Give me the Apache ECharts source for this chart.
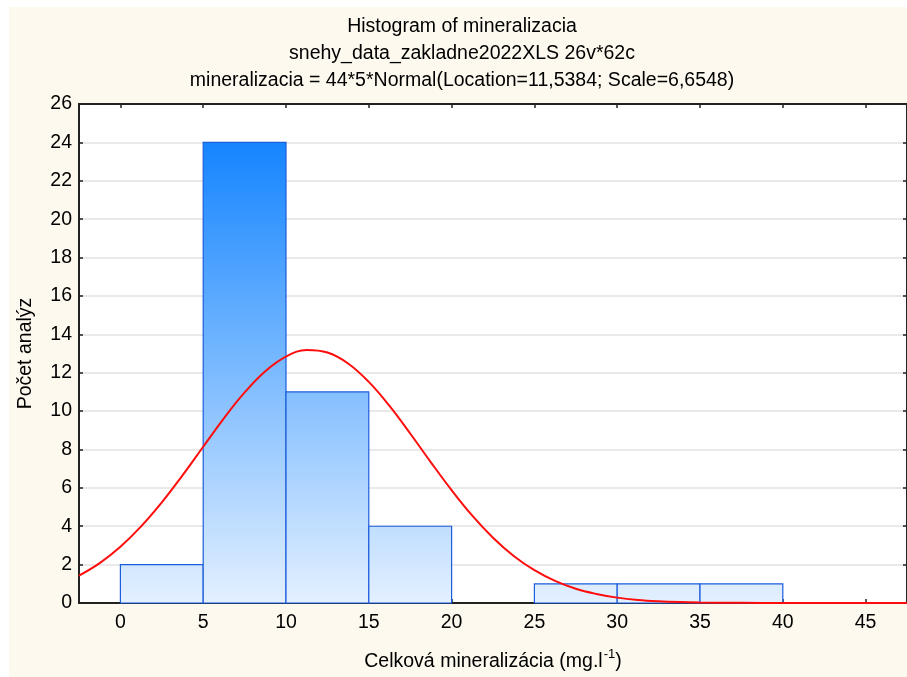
<!DOCTYPE html>
<html>
<head>
<meta charset="utf-8">
<script src="https://cdn.jsdelivr.net/npm/echarts@6/dist/echarts.min.js"></script>
<style>
  html, body { margin: 0; padding: 0; background: #ffffff; }
  #chart { width: 907px; height: 677px; }
</style>
</head>
<body>
<div id="chart"></div>
<script>
// Histogram bins (mg.l-1) and counts
const binStart = [0, 5, 10, 15, 20, 25, 30, 35];
const binEnd   = [5, 10, 15, 20, 25, 30, 35, 40];
const counts   = [2, 24, 11, 4, 0, 1, 1, 1];

// Fitted normal curve, sampled points (x, expected count per bin)
const curveX = [-2.5, -1.25, 0, 1.25, 2.5, 3.75, 5, 6.25, 7.5, 8.75, 10, 11.25, 12.5, 13.75,
                15, 16.25, 17.5, 18.75, 20, 21.25, 22.5, 23.75, 25, 26.25, 27.5, 28.75,
                30, 31.25, 32.5, 33.75, 35, 37.5, 40, 42.5, 45, 47.5];
const curveY = [1.43, 2.08, 2.93, 3.99, 5.24, 6.65, 8.14, 9.62, 10.97, 12.08, 12.84, 13.18, 13.05, 12.48,
                11.52, 10.27, 8.83, 7.33, 5.88, 4.55, 3.40, 2.45, 1.71, 1.15, 0.74, 0.47,
                0.28, 0.16, 0.09, 0.05, 0.03, 0.01, 0, 0, 0, 0];

const xTicks = [0, 5, 10, 15, 20, 25, 30, 35, 40, 45];
const titleLines = [
  'Histogram of mineralizacia',
  'snehy_data_zakladne2022XLS 26v*62c',
  'mineralizacia = 44*5*Normal(Location=11,5384; Scale=6,6548)'
];
const yAxisTitle = 'Počet analýz';
const xAxisTitle = '{a|Celková mineralizácia (mg.l}{s|-1}{a|)}';

const FONT = '"Liberation Sans", Arial, sans-serif';
const FS = 19.5;
const maxCount = Math.max.apply(null, counts);

const chart = echarts.init(document.getElementById('chart'), null, { renderer: 'canvas' });

const graphics = [{
  type: 'rect', z: -10, silent: true,
  shape: { x: 9, y: 7, width: 898, height: 670 },
  style: { fill: '#fdf9ee' }
}];
titleLines.forEach(function (t, i) {
  graphics.push({
    type: 'text', x: 462, y: 27 + i * 27, silent: true,
    style: { text: t, fill: '#000', font: FS + 'px ' + FONT, textAlign: 'center', textVerticalAlign: 'middle' }
  });
});

const axisLineStyle = { color: '#222', width: 2 };
const tickStyle = { inside: true, length: 4, lineStyle: { color: '#222', width: 1.5 } };

chart.setOption({
  animation: false,
  backgroundColor: 'transparent',
  textStyle: { fontFamily: FONT },
  graphic: graphics,
  grid: {
    left: 79, top: 104, width: 830, height: 509,
    show: true, backgroundColor: '#ffffff', borderWidth: 0
  },
  xAxis: [{
    type: 'value', min: -2.5, max: 47.5, position: 'bottom',
    axisLine: { show: true, onZero: false, lineStyle: axisLineStyle },
    axisTick: Object.assign({ customValues: xTicks }, tickStyle),
    axisLabel: { customValues: xTicks, color: '#000', fontSize: FS, margin: 10 },
    splitLine: { show: false },
    name: xAxisTitle, nameLocation: 'middle', nameGap: 45,
    nameTextStyle: {
      color: '#000',
      rich: {
        a: { fontSize: FS, color: '#000', fontFamily: FONT },
        s: { fontSize: 13, color: '#000', fontFamily: FONT, verticalAlign: 'top', padding: [0, 0, 15, 1] }
      }
    }
  }, {
    type: 'value', min: -2.5, max: 47.5, position: 'top',
    axisLine: { show: true, onZero: false, lineStyle: axisLineStyle },
    axisTick: Object.assign({ customValues: xTicks }, tickStyle),
    axisLabel: { show: false },
    splitLine: { show: false }
  }],
  yAxis: [{
    type: 'value', min: 0, max: 26, interval: 2, position: 'left',
    axisLine: { show: true, onZero: false, lineStyle: axisLineStyle },
    axisTick: tickStyle,
    axisLabel: { color: '#000', fontSize: FS, margin: 7 },
    splitLine: { show: true, lineStyle: { color: '#e2e2e2', width: 1.5 } },
    name: yAxisTitle, nameLocation: 'middle', nameGap: 43, nameRotate: 90,
    nameTextStyle: { color: '#000', fontSize: FS }
  }, {
    type: 'value', min: 0, max: 26, interval: 2, position: 'right',
    axisLine: { show: true, onZero: false, lineStyle: axisLineStyle },
    axisTick: tickStyle,
    axisLabel: { show: false },
    splitLine: { show: false }
  }],
  series: [{
    type: 'custom',
    xAxisIndex: 0, yAxisIndex: 0,
    data: binStart.map(function (s, i) { return [s, binEnd[i], counts[i]]; }),
    renderItem: function (params, api) {
      const count = api.value(2);
      if (!count) return null;
      const p0 = api.coord([api.value(0), count]);
      const p1 = api.coord([api.value(1), 0]);
      const gTop = api.coord([0, maxCount])[1];
      const gBot = api.coord([0, 0])[1];
      return {
        type: 'rect',
        shape: { x: p0[0], y: p0[1], width: p1[0] - p0[0], height: p1[1] - p0[1] },
        style: {
          fill: new echarts.graphic.LinearGradient(0, gTop, 0, gBot, [
            { offset: 0, color: '#1585ff' },
            { offset: 1, color: '#e3f0ff' }
          ], true),
          stroke: '#1c5ddc',
          lineWidth: 1.2
        }
      };
    },
    z: 2
  }, {
    type: 'line',
    xAxisIndex: 0, yAxisIndex: 0,
    data: curveX.map(function (x, i) { return [x, curveY[i]]; }),
    smooth: 0.4,
    showSymbol: false,
    lineStyle: { color: '#ff0d0d', width: 2 },
    z: 5
  }]
});
</script>
</body>
</html>
